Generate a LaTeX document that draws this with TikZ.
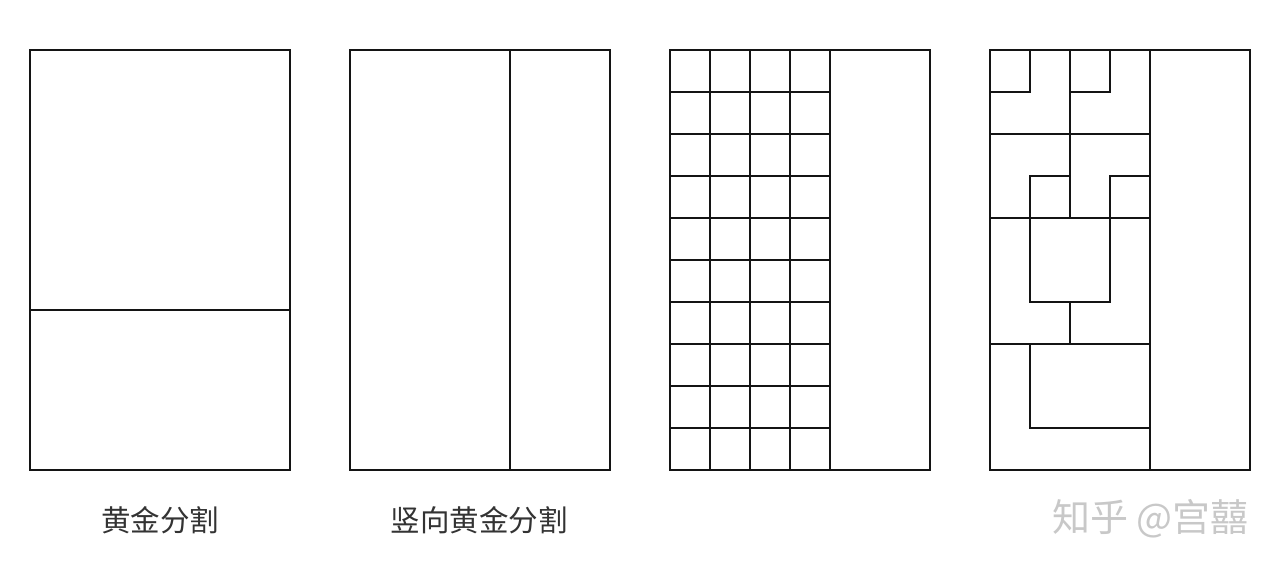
\documentclass[tikz,border=0pt]{standalone}
\usepackage{fontspec}
\newfontfamily\cjk{Noto Sans CJK SC}
\definecolor{wm}{RGB}{200,200,200}
\definecolor{ln}{RGB}{20,20,20}
\tikzset{
  panel/.style={draw=ln, line width=1.2pt},
  cut/.style={draw=ln, line width=1.2pt},
  caption/.style={font=\cjk\fontsize{29.5}{32}\selectfont, text=black!80, inner sep=0pt}
}
\begin{document}
\begin{tikzpicture}[x=1pt,y=-1pt]
\useasboundingbox (0,0) rectangle (1280,568);
% panel 1
\draw[panel] (30,50) rectangle (290,470);
\draw[cut] (30,310) -- (290,310);
% panel 2
\draw[panel] (350,50) rectangle (610,470);
\draw[cut] (510,50) -- (510,470);
% panel 3
\draw[panel] (670,50) rectangle (930,470);
\foreach \x in {710,750,790,830} \draw[cut] (\x,50) -- (\x,470);
\foreach \i in {1,...,9} \draw[cut] (670,50+42*\i) -- (830,50+42*\i);
% panel 4
\draw[panel] (990,50) rectangle (1250,470);
\draw[cut] (1150,50) -- (1150,470);
\draw[cut] (1030,50) -- (1030,92) -- (990,92);
\draw[cut] (1070,50) -- (1070,218);
\draw[cut] (1110,50) -- (1110,92) -- (1070,92);
\draw[cut] (990,134) -- (1150,134);
\draw[cut] (1070,176) -- (1030,176) -- (1030,302) -- (1110,302) -- (1110,176) -- (1150,176);
\draw[cut] (990,218) -- (1150,218);
\draw[cut] (1070,302) -- (1070,344);
\draw[cut] (990,344) -- (1150,344);
\draw[cut] (1030,344) -- (1030,428) -- (1150,428);
% captions
\node[caption] (c1) at (160,520) {黄金分割};
\node[caption] (c2) at (479,520) {竖向黄金分割};
\node[caption, text=wm, font=\cjk\fontsize{38}{40}\selectfont, anchor=east] (wm) at (1249,519) {知乎 @宫囍};
\end{tikzpicture}
\end{document}
